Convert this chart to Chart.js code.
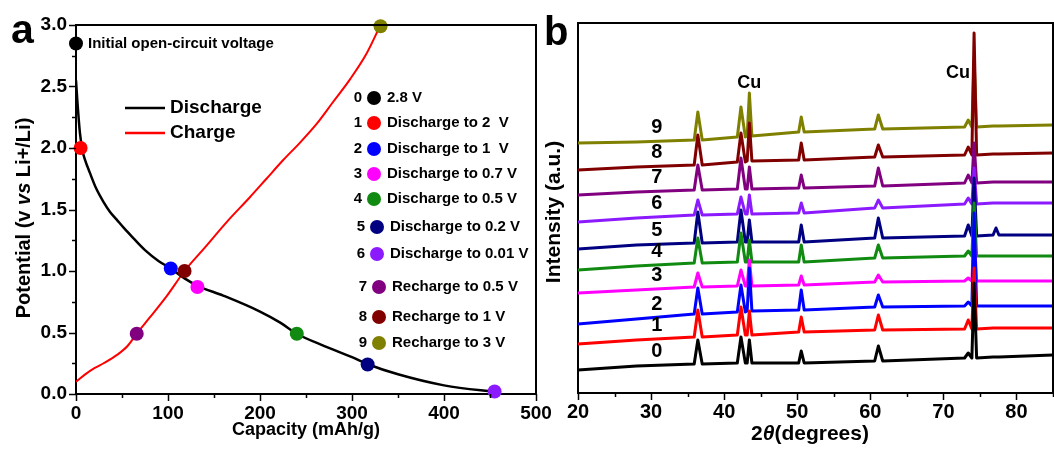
<!DOCTYPE html>
<html>
<head>
<meta charset="utf-8">
<script src="https://cdn.jsdelivr.net/npm/chart.js@4.4.1/dist/chart.umd.min.js"></script>
<style>
  html, body { margin: 0; padding: 0; background: #fff; overflow: hidden; }
  #wrap { position: relative; width: 1054px; height: 450px; }
  .panel { position: absolute; top: 0; height: 450px; }
  #panelA { left: 0; width: 560px; }
  #panelB { left: 540px; width: 514px; }
</style>
</head>
<body>
<div id="wrap">
  <div class="panel" id="panelA"><canvas id="capacityChart"></canvas></div>
  <div class="panel" id="panelB"><canvas id="xrdChart"></canvas></div>
</div>
<script>
// ---- panel a: first discharge / charge profile ----
const dischargeCap = [0, 1.4, 4.3, 7, 10, 15, 22, 30, 37, 44, 52, 62, 75, 90, 103, 118, 132, 160, 200, 222, 240, 270, 300, 318, 350, 400, 440, 458];
const dischargeV = [2.55, 2.39, 2.12, 1.98, 1.9, 1.8, 1.67, 1.56, 1.48, 1.42, 1.35, 1.27, 1.17, 1.08, 1.02, 0.94, 0.88, 0.8, 0.67, 0.58, 0.49, 0.39, 0.3, 0.24, 0.16, 0.07, 0.03, 0.02];
const chargeCap = [0, 10, 20, 30, 45, 56, 66, 80, 99, 118, 140, 164, 189, 207, 225, 243, 262, 279, 298, 316, 331];
const chargeV = [0.1, 0.16, 0.21, 0.25, 0.32, 0.39, 0.49, 0.62, 0.8, 1.0, 1.19, 1.4, 1.6, 1.75, 1.9, 2.04, 2.2, 2.37, 2.56, 2.77, 3.0];

// sampling states 0-9 along the curve
const stateCap = [0, 5, 103, 132, 240, 317, 455, 66, 118, 331];
const stateV = [2.85, 2.0, 1.02, 0.87, 0.49, 0.24, 0.02, 0.49, 1.0, 2.99];
const stateNames = ['2.8 V', 'Discharge to 2  V', 'Discharge to 1  V', 'Discharge to 0.7 V', 'Discharge to 0.5 V',
  'Discharge to 0.2 V', 'Discharge to 0.01 V', 'Recharge to 0.5 V', 'Recharge to 1 V', 'Recharge to 3 V'];
const stateColors = ['#000000', '#ff0000', '#0000ff', '#ff00ff', '#108a10', '#000080', '#8c1aff', '#800080', '#800000', '#808000'];

// ---- panel b: ex-situ XRD patterns, one per state ----
const twoTheta = [20, 28, 35.9, 36.4, 37.0, 41.8, 42.3, 42.9, 43.15, 43.45, 43.8, 50.2, 50.55, 50.95,
  60.6, 61.1, 61.7, 72.9, 73.4, 73.9, 74.2, 74.55, 76.8, 77.2, 77.6, 85];
const xrd0 = [23, 27, 29, 53, 29, 30, 56, 30, 30, 53, 30, 30, 42, 30, 32, 47, 32, 35, 40, 35, 110, 35, 36, 36, 36, 38];
const xrd1 = [49, 53, 56, 83, 56, 58, 86, 58, 58, 82, 58, 61, 76, 61, 63, 78, 63, 64, 73, 64, 125, 64, 65, 65, 65, 65];
const xrd2 = [69, 74, 79, 105, 79, 81, 108, 81, 82, 125, 82, 83, 103, 83, 86, 98, 86, 87, 91, 87, 180, 87, 87, 87, 87, 87];
const xrd3 = [100, 103, 106, 120, 106, 107, 123, 107, 107, 133, 107, 108, 117, 108, 111, 118, 111, 112, 115, 112, 160, 112, 112, 112, 112, 112];
const xrd4 = [123, 127, 130, 155, 130, 131, 160, 131, 131, 153, 131, 131, 148, 131, 135, 148, 135, 137, 142, 137, 190, 137, 137, 137, 137, 137];
const xrd5 = [144, 148, 150, 181, 150, 151, 183, 151, 151, 173, 151, 151, 168, 151, 155, 175, 155, 157, 168, 157, 215, 157, 158, 165, 158, 158];
const xrd6 = [171, 175, 178, 193, 178, 179, 196, 179, 179, 198, 179, 180, 190, 180, 185, 193, 185, 189, 195, 189, 225, 189, 190, 190, 190, 190];
const xrd7 = [198, 201, 203, 228, 203, 204, 235, 204, 204, 226, 204, 205, 218, 205, 207, 225, 207, 210, 218, 210, 250, 210, 211, 211, 211, 211];
const xrd8 = [223, 226, 228, 258, 228, 231, 260, 231, 232, 270, 232, 233, 250, 233, 236, 248, 236, 238, 246, 238, 360, 238, 239, 239, 239, 240];
const xrd9 = [250, 251, 253, 281, 253, 256, 286, 256, 257, 300, 257, 261, 276, 261, 264, 278, 264, 266, 273, 266, 333, 266, 267, 267, 267, 268];
const xrdTraces = [xrd0, xrd1, xrd2, xrd3, xrd4, xrd5, xrd6, xrd7, xrd8, xrd9];
const cuPeaks = [43.45, 74.2];

const FONT = '"Liberation Sans", Arial, sans-serif';
Chart.defaults.font.family = FONT;
Chart.defaults.font.weight = 'bold';
Chart.defaults.color = '#000';

// text made of plain/italic runs, centred on (cx, cy)
function drawRuns(ctx, runs, cx, cy, size) {
  const fonts = runs.map(r => (r.italic ? 'italic ' : '') + 'bold ' + size + 'px ' + FONT);
  let total = 0;
  const widths = runs.map((r, i) => {
    ctx.font = fonts[i];
    const w = ctx.measureText(r.text).width;
    total += w;
    return w;
  });
  let x = cx - total / 2;
  ctx.textAlign = 'left';
  ctx.textBaseline = 'middle';
  runs.forEach((r, i) => {
    ctx.font = fonts[i];
    ctx.fillText(r.text, x, cy);
    x += widths[i];
  });
}

// closed frame plus major/minor tick marks on the outside
const frameTicks = {
  id: 'frameTicks',
  afterDraw(chart, args, opts) {
    const { ctx, chartArea: a, scales: { x, y } } = chart;
    ctx.save();
    ctx.strokeStyle = '#000';
    ctx.lineWidth = 2;
    ctx.beginPath();
    ctx.moveTo(a.left - 1, a.top);
    ctx.lineTo(a.right, a.top);
    ctx.lineTo(a.right, a.bottom + 1);
    ctx.stroke();
    ctx.lineWidth = 1.5;
    const isMajor = (v, step) => Math.abs(v / step - Math.round(v / step)) < 1e-6;
    for (let v = x.min; v <= x.max + 1e-9; v += opts.xMinor) {
      const px = Math.round(x.getPixelForValue(v)) + 0.5;
      ctx.beginPath();
      ctx.moveTo(px, a.bottom);
      ctx.lineTo(px, a.bottom + (isMajor(v, opts.xMajor) ? 7 : 4));
      ctx.stroke();
    }
    if (opts.yMinor) {
      for (let v = y.min; v <= y.max + 1e-9; v += opts.yMinor) {
        const py = Math.round(y.getPixelForValue(v)) + 0.5;
        ctx.beginPath();
        ctx.moveTo(a.left, py);
        ctx.lineTo(a.left - (isMajor(v, opts.yMajor) ? 7 : 4), py);
        ctx.stroke();
      }
    }
    ctx.restore();
  }
};

// panel a annotations: letter, axis titles, line key, state key
const capacityNotes = {
  id: 'capacityNotes',
  afterDraw(chart) {
    const { ctx, chartArea: a, scales: { x, y } } = chart;
    ctx.save();
    ctx.fillStyle = '#000';
    ctx.font = 'bold 41px ' + FONT;
    ctx.textAlign = 'left';
    ctx.textBaseline = 'alphabetic';
    ctx.fillText('a', 11, 43);

    drawRuns(ctx, [{ text: 'Capacity (mAh/g)' }], (a.left + a.right) / 2, 430, 18);
    ctx.save();
    ctx.translate(24, 218);
    ctx.rotate(-Math.PI / 2);
    drawRuns(ctx, [{ text: 'Potential (v ' }, { text: 'vs', italic: true }, { text: ' Li+/Li)' }], 0, 0, 20);
    ctx.restore();

    // open-circuit point caption
    ctx.font = 'bold 15px ' + FONT;
    ctx.textBaseline = 'middle';
    ctx.fillText('Initial open-circuit voltage', x.getPixelForValue(stateCap[0]) + 12, y.getPixelForValue(stateV[0]));

    // line key
    const keys = [['Discharge', '#000000', 108], ['Charge', '#ff0000', 133]];
    keys.forEach(([name, color, ky]) => {
      ctx.strokeStyle = color;
      ctx.lineWidth = 2.5;
      ctx.beginPath();
      ctx.moveTo(125, ky);
      ctx.lineTo(165, ky);
      ctx.stroke();
      ctx.font = 'bold 19px ' + FONT;
      ctx.fillStyle = '#000';
      ctx.fillText(name, 170, ky);
    });

    // state key
    const rowY = [98, 123, 149, 174, 199, 227, 254, 287, 317, 343];
    stateNames.forEach((name, i) => {
      const shift = i < 5 ? 0 : (i < 7 ? 3 : 5);
      const ry = rowY[i];
      ctx.fillStyle = '#000';
      ctx.font = 'bold 15px ' + FONT;
      ctx.textAlign = 'center';
      ctx.fillText(String(i), 358 + shift, ry);
      ctx.fillStyle = stateColors[i];
      ctx.beginPath();
      ctx.arc(374 + shift, ry, 7, 0, Math.PI * 2);
      ctx.fill();
      ctx.fillStyle = '#000';
      ctx.textAlign = 'left';
      ctx.fillText(name, 387 + shift, ry);
    });
    ctx.restore();
  }
};

const toPoints = (xs, ys) => xs.map((v, i) => ({ x: v, y: ys[i] }));

new Chart(document.getElementById('capacityChart'), {
  type: 'line',
  data: {
    datasets: [
      {
        label: 'States',
        data: toPoints(stateCap, stateV),
        showLine: false,
        pointRadius: 7,
        pointBorderWidth: 0,
        pointBackgroundColor: stateColors,
        clip: false,
        order: 0
      },
      {
        label: 'Discharge',
        data: toPoints(dischargeCap, dischargeV),
        borderColor: '#000000',
        borderWidth: 2.5,
        pointRadius: 0,
        cubicInterpolationMode: 'monotone',
        order: 1
      },
      {
        label: 'Charge',
        data: toPoints(chargeCap, chargeV),
        borderColor: '#ff0000',
        borderWidth: 2,
        pointRadius: 0,
        cubicInterpolationMode: 'monotone',
        order: 2
      }
    ]
  },
  options: {
    responsive: true,
    maintainAspectRatio: false,
    animation: false,
    layout: { padding: { left: 0, right: 24, top: 25, bottom: 0 } },
    plugins: {
      legend: { display: false },
      tooltip: { enabled: false },
      frameTicks: { xMajor: 100, xMinor: 50, yMajor: 0.5, yMinor: 0.25 }
    },
    scales: {
      x: {
        type: 'linear',
        min: 0,
        max: 500,
        ticks: { stepSize: 100, padding: 8, font: { size: 19, weight: 'bold' } },
        grid: { display: false, drawTicks: false },
        border: { color: '#000', width: 2 },
        afterFit(s) { s.height = 56; }
      },
      y: {
        min: 0,
        max: 3,
        ticks: { stepSize: 0.5, padding: 9, font: { size: 19, weight: 'bold' }, callback: v => v.toFixed(1) },
        grid: { display: false, drawTicks: false },
        border: { color: '#000', width: 2 },
        afterFit(s) { s.width = 76; }
      }
    }
  },
  plugins: [frameTicks, capacityNotes]
});

// panel b annotations: letter, axis titles, pattern numbers, Cu marks
const xrdNotes = {
  id: 'xrdNotes',
  afterDraw(chart) {
    const { ctx, chartArea: a, scales: { x, y } } = chart;
    ctx.save();
    ctx.fillStyle = '#000';
    ctx.font = 'bold 40px ' + FONT;
    ctx.textAlign = 'left';
    ctx.textBaseline = 'alphabetic';
    ctx.fillText('b', 4, 45);

    drawRuns(ctx, [{ text: '2' }, { text: 'θ', italic: true }, { text: '(degrees)' }], 270, 434, 21);
    ctx.save();
    ctx.translate(14, 212);
    ctx.rotate(-Math.PI / 2);
    drawRuns(ctx, [{ text: 'Intensity (a.u.)' }], 0, 0, 21);
    ctx.restore();

    ctx.font = 'bold 20px ' + FONT;
    ctx.textAlign = 'center';
    ctx.textBaseline = 'middle';
    xrdTraces.forEach((trace, i) => {
      ctx.fillText(String(i), x.getPixelForValue(30.8), y.getPixelForValue(trace[1]) - 15);
    });

    ctx.font = 'bold 18px ' + FONT;
    const top = xrdTraces[9];
    const cuA = twoTheta.indexOf(cuPeaks[0]);
    ctx.fillText('Cu', x.getPixelForValue(cuPeaks[0]), y.getPixelForValue(top[cuA]) - 10);
    ctx.textAlign = 'right';
    ctx.fillText('Cu', x.getPixelForValue(cuPeaks[1]) - 4, y.getPixelForValue(320));
    ctx.restore();
  }
};

new Chart(document.getElementById('xrdChart'), {
  type: 'line',
  data: {
    datasets: xrdTraces.map((trace, i) => ({
      label: String(i),
      data: toPoints(twoTheta, trace),
      borderColor: stateColors[i],
      borderWidth: 3,
      borderJoinStyle: 'round',
      pointRadius: 0,
      tension: 0
    }))
  },
  options: {
    responsive: true,
    maintainAspectRatio: false,
    animation: false,
    layout: { padding: { left: 0, right: 1, top: 23, bottom: 0 } },
    plugins: {
      legend: { display: false },
      tooltip: { enabled: false },
      frameTicks: { xMajor: 10, xMinor: 5 }
    },
    scales: {
      x: {
        type: 'linear',
        min: 20,
        max: 85,
        ticks: { stepSize: 10, includeBounds: false, padding: 7, font: { size: 20, weight: 'bold' } },
        grid: { display: false, drawTicks: false },
        border: { color: '#000', width: 2 },
        afterFit(s) { s.height = 57; }
      },
      y: {
        min: 0,
        max: 370,
        ticks: { display: false },
        grid: { display: false, drawTicks: false },
        border: { color: '#000', width: 2 },
        afterFit(s) { s.width = 38; }
      }
    }
  },
  plugins: [frameTicks, xrdNotes]
});
</script>
</body>
</html>
